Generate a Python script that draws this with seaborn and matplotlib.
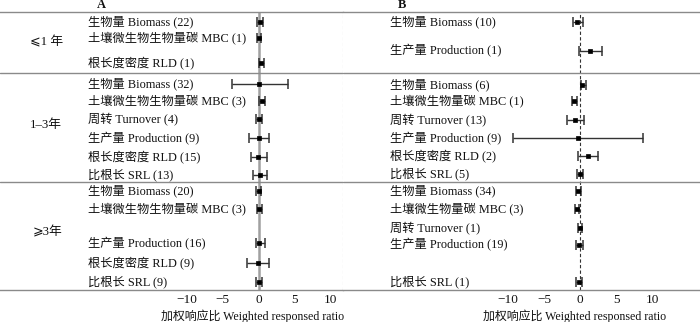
import matplotlib
matplotlib.use("Agg")
import matplotlib.pyplot as plt
import seaborn as sns
import pandas as pd

# ---------------- data ----------------
groups = ["⩽1 年", "1–3年", "⩾3年"]

a_labels = ["生物量 Biomass (22)", "土壤微生物生物量碳 MBC (1)", "根长度密度 RLD (1)",
            "生物量 Biomass (32)", "土壤微生物生物量碳 MBC (3)", "周转 Turnover (4)",
            "生产量 Production (9)", "根长度密度 RLD (15)", "比根长 SRL (13)",
            "生物量 Biomass (20)", "土壤微生物生物量碳 MBC (3)", "生产量 Production (16)",
            "根长度密度 RLD (9)", "比根长 SRL (9)"]
a_mean = [0.2, 0.1, 0.35, 0.1, 0.45, 0.05, 0.1, -0.05, 0.2, 0.0, 0.1, 0.1, -0.1, 0.05]
a_low = [-0.2, -0.2, 0.0, -3.75, 0.0, -0.35, -1.3, -1.1, -0.7, -0.35, -0.25, -0.35, -1.55, -0.35]
a_high = [0.65, 0.4, 0.72, 4.15, 0.9, 0.45, 1.5, 1.15, 1.15, 0.3, 0.45, 0.9, 1.5, 0.45]

b_labels = ["生物量 Biomass (10)", "生产量 Production (1)",
            "生物量 Biomass (6)", "土壤微生物量碳 MBC (1)", "周转 Turnover (13)",
            "生产量 Production (9)", "根长度密度 RLD (2)", "比根长 SRL (5)",
            "生物量 Biomass (34)", "土壤微生物量碳 MBC (3)", "周转 Turnover (1)",
            "生产量 Production (19)", "比根长 SRL (1)"]
b_mean = [-0.4, 1.4, 0.3, -0.8, -0.7, -0.3, 1.05, 0.0, -0.25, -0.4, 0.0, -0.15, -0.15]
b_low = [-1.0, -0.1, 0.1, -1.15, -1.85, -9.35, -0.3, -0.35, -0.6, -0.7, -0.3, -0.6, -0.55]
b_high = [0.4, 3.0, 0.9, -0.4, 0.55, 8.8, 2.5, 0.4, 0.1, -0.1, 0.3, 0.45, 0.25]

xticks = [-10, -5, 0, 5, 10]
xlabel = "加权响应比 Weighted responsed ratio"

# ---------------- layout (pixel rows) ----------------
a_rows = [21.7, 38.3, 63.3, 84.3, 101, 119.3, 138.3, 156.7, 175, 191, 209.3, 243.3, 263.3, 281.7]
b_rows = [21.7, 50.7, 85, 101, 120, 138.3, 156, 174, 191, 209.3, 228.3, 245, 281.7]
group_rows = [42, 125, 232]
sep_rows = [73.3, 182.3]
W, H = 700, 322
top_px, bot_px = 12.3, 290

sns.set_theme(style="white")
plt.rcParams["font.family"] = ["Liberation Serif", "Noto Sans CJK SC", "DejaVu Sans"]
plt.rcParams["axes.unicode_minus"] = True

fig = plt.figure(figsize=(W / 100, H / 100), dpi=100)


def make_ax(x0px, x1px, zero_px, scale):
    ax = fig.add_axes([x0px / W, 1 - bot_px / H, (x1px - x0px) / W, (bot_px - top_px) / H])
    ax.set_xlim((x0px - zero_px) / scale, (x1px - zero_px) / scale)
    ax.set_ylim(bot_px, top_px)
    return ax


axA = make_ax(0, 343, 258.5, 7.17)
axB = make_ax(343, 700, 580, 7.2)

panels = [
    (axA, a_labels, a_mean, a_low, a_high, a_rows, 88, 258.5, 7.17, "A", 97),
    (axB, b_labels, b_mean, b_low, b_high, b_rows, 390, 580, 7.2, "B", 398),
]

for ax, labels, mean, low, high, rows, lab_px, zero_px, scale, tag, tag_px in panels:
    df = pd.DataFrame({"label": labels, "mean": mean, "low": low, "high": high, "y": rows})
    # zero reference line
    if tag == "A":
        ax.axvline(0, color="#a0a0a0", lw=1.8, zorder=1)
    else:
        ax.axvline(0, color="#333333", lw=0.8, ls=(0, (3, 2)), zorder=1)
    for y in sep_rows:
        ax.axhline(y, color="#8a8a8a", lw=1.0, zorder=1)
    ax.errorbar(df["mean"], df["y"],
                xerr=[df["mean"] - df["low"], df["high"] - df["mean"]],
                fmt="none", ecolor="#333333", elinewidth=1.0, capsize=3.4, capthick=1.1, zorder=2)
    sns.scatterplot(data=df, x="mean", y="y", ax=ax, marker="s", s=9, color="black",
                    edgecolor="black", linewidth=0.5, zorder=3, legend=False)
    lab_x = (lab_px - zero_px) / scale
    for lab, y in zip(df["label"], df["y"]):
        ax.text(lab_x, y, lab, ha="left", va="center", fontsize=8.8, color="#111111")
    ax.text((tag_px - zero_px) / scale, 5.5, tag, ha="left", va="center",
            fontsize=9, fontweight="bold", color="#111111")
    ax.set_xticks(xticks)
    ax.set_xticklabels([f"{t}".replace("-", "−") for t in xticks], fontsize=9.5)
    ax.set_yticks([])
    ax.set_xlabel("")
    ax.set_ylabel("")
    ax.tick_params(axis="x", length=0, pad=3, colors="#111111")
    for s in ["left", "right"]:
        ax.spines[s].set_visible(False)
    for s in ["top", "bottom"]:
        ax.spines[s].set_visible(True)
        ax.spines[s].set_color("#8a8a8a")
        ax.spines[s].set_linewidth(1.0)
    ax.text(-0.8, 316, xlabel, ha="center", va="center", fontsize=8.6,
            color="#111111", clip_on=False)

# dashed separator between panels
axA.axvline(axA.get_xlim()[1] - 0.05, color="#c0c0c0", lw=0.8, ls=(0, (3, 2)), zorder=1)

# group labels
for g, y, xpx in zip(groups, group_rows, [30, 30, 33]):
    axA.text((xpx - 258.5) / 7.17, y, g, ha="left", va="center", fontsize=9.2, color="#111111")

fig.savefig("out.png", dpi=100)
